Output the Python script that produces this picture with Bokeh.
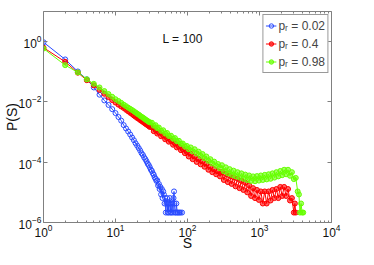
from bokeh.plotting import figure
from bokeh.models import LogAxis, FixedTicker, Legend, LegendItem, Label, CustomJSTickFormatter
from bokeh.embed import file_html
from bokeh.resources import INLINE

# ---------------- data (log10 of P(S)) ----------------
S_blue = [1, 2, 3, 4, 5, 6, 7, 8, 9, 10, 11, 12, 13, 14, 15, 16, 17, 18, 19, 20,
          21, 22, 23, 24, 25, 26, 27, 28, 29, 30, 31, 32, 33, 34, 35, 36, 37, 38, 39, 40,
          41, 42, 43, 44, 45, 46, 47, 48, 49, 50, 51, 52, 53, 54, 55, 56, 57, 58, 59, 60,
          62, 63, 64, 65, 66, 67, 69, 70, 72, 74, 77, 80, 84]
logP_blue = [-0.02, -0.59, -0.99, -1.25, -1.52, -1.76, -1.95, -2.10, -2.24, -2.37,
             -2.50, -2.62, -2.77, -2.88, -2.98, -3.08, -3.18, -3.27, -3.37, -3.45,
             -3.53, -3.61, -3.70, -3.76, -3.84, -3.90, -3.97, -4.05, -4.10, -4.17,
             -4.25, -4.29, -4.37, -4.42, -4.50, -4.55, -4.62, -4.60, -4.77, -4.72,
             -4.89, -4.82, -5.07, -4.89, -5.19, -4.97, -5.07, -5.37, -5.19, -5.67,
             -5.37, -5.19, -5.67, -5.37, -5.67, -5.37, -5.19, -5.67, -5.37, -5.67,
             -5.37, -5.67, -5.19, -4.97, -5.37, -5.67, -5.67, -5.37, -5.67, -5.67,
             -5.67, -5.67, -5.67]

S_red = [1, 2, 3, 4, 5, 6, 7, 8, 9, 10, 11, 12, 13, 14, 15, 16, 17, 18, 19, 20,
         21, 22, 23, 24, 25, 26, 27, 28, 29, 30,
         32, 34, 36, 38, 40, 43, 46, 49, 52, 55, 59, 63, 67, 71, 76, 81, 86, 92, 98,
         104, 111, 118, 126, 134, 143, 152, 162, 172, 183, 195, 208, 221, 235, 250, 266, 283,
         301, 320, 341, 363, 386, 411, 437, 465, 495, 527, 561, 597, 635, 676, 719, 765,
         814, 866, 922, 981, 1044, 1111, 1182, 1258, 1339, 1425, 1516, 1613, 1716, 1826,
         1943, 2067, 2199, 2340, 2490, 2650, 2820, 3000, 3100, 3190]
logP_red = [-0.20, -0.67, -1.03, -1.28, -1.45, -1.60, -1.73, -1.84, -1.94, -2.02,
            -2.09, -2.15, -2.20, -2.26, -2.31, -2.36, -2.40, -2.45, -2.49, -2.53,
            -2.56, -2.60, -2.63, -2.66, -2.69, -2.72, -2.75, -2.77, -2.80, -2.83,
            -2.84, -2.97, -2.93, -3.05, -3.01, -3.14, -3.11, -3.24, -3.20, -3.32,
            -3.29, -3.42, -3.38, -3.51, -3.48, -3.60, -3.57, -3.70, -3.66,
            -3.81, -3.72, -3.90, -3.81, -3.99, -3.89, -4.07, -3.97, -4.15, -4.05,
            -4.25, -4.15, -4.33, -4.23, -4.40, -4.30, -4.47,
            -4.32, -4.59, -4.39, -4.66, -4.45, -4.72, -4.50, -4.80, -4.55, -4.86,
            -4.62, -4.92, -4.68, -5.00, -4.77, -5.12,
            -4.86, -5.19, -4.92, -5.25, -4.97, -5.37, -4.97, -5.37, -4.97, -5.27,
            -4.92, -5.19, -4.89, -5.19,
            -4.82, -5.12, -4.82, -5.12, -4.89, -5.27, -5.19, -5.67, -5.37, -5.67]

S_green = [1, 2, 3, 4, 5, 6, 7, 8, 9, 10, 11, 12, 13, 14, 15, 16, 17, 18, 19, 20,
           21, 22, 23, 24, 25, 26, 27, 28, 29, 30,
           32, 34, 36, 38, 40, 43, 46, 49, 52, 55, 59, 63, 67, 71, 76, 81, 86, 92, 98,
           104, 111, 118, 126, 134, 143, 152, 162, 172, 183, 195, 208, 221, 235, 250, 266, 283,
           301, 320, 341, 363, 386, 411, 437, 465, 495, 527, 561, 597, 635, 676, 719, 765,
           814, 866, 922, 981, 1044, 1111, 1182, 1258, 1339, 1425, 1516, 1613, 1716, 1826,
           1943, 2067, 2199, 2340, 2490, 2650, 2820, 3000, 3190, 3390, 3530, 3650, 3780,
           3900, 4050]
logP_green = [-0.23, -0.78, -1.02, -1.25, -1.40, -1.52, -1.64, -1.74, -1.83, -1.91,
              -1.97, -2.03, -2.09, -2.14, -2.19, -2.23, -2.27, -2.31, -2.35, -2.39,
              -2.42, -2.46, -2.49, -2.52, -2.55, -2.58, -2.61, -2.63, -2.66, -2.68,
              -2.69, -2.79, -2.77, -2.87, -2.85, -2.96, -2.94, -3.05, -3.03, -3.13,
              -3.12, -3.22, -3.20, -3.30, -3.29, -3.39, -3.38, -3.48, -3.46,
              -3.57, -3.51, -3.64, -3.57, -3.71, -3.65, -3.79, -3.73, -3.87, -3.81,
              -3.95, -3.90, -4.04, -3.98, -4.12, -4.06, -4.20,
              -4.10, -4.30, -4.17, -4.37, -4.23, -4.42, -4.28, -4.47, -4.33, -4.51,
              -4.37, -4.55, -4.41, -4.59, -4.44, -4.62,
              -4.47, -4.63, -4.46, -4.61, -4.44, -4.59, -4.42, -4.57, -4.40, -4.55,
              -4.37, -4.51, -4.33, -4.47,
              -4.29, -4.43, -4.25, -4.40, -4.25, -4.45, -4.33, -4.56, -4.52, -4.97,
              -5.07, -5.67, -5.37, -5.67, -5.67]

series_labels = ["p\u1d63 = 0.02", "p\u1d63 = 0.4", "p\u1d63 = 0.98"]
series_colors = ["#2a4bff", "#ff0000", "#66ff00"]
series_fill_alpha = [0.0, 0.6, 0.6]

x_major_ticks = [1, 10, 100, 1000, 10000]
y_major_ticks = [1e-6, 1e-4, 1e-2, 1e0]

P_blue = [10 ** v for v in logP_blue]
P_red = [10 ** v for v in logP_red]
P_green = [10 ** v for v in logP_green]

x_minor_ticks = [m * t for t in x_major_ticks[:-1] for m in range(2, 10)]

FONT = "Liberation Sans"

p = figure(width=358, height=253,
           x_axis_type="log", y_axis_type="log",
           x_range=(1, 1e4), y_range=(1e-6, 10),
           output_backend="svg", toolbar_location=None,
           min_border_left=40, min_border_right=27,
           min_border_top=11, min_border_bottom=29)
p.xgrid.visible = False
p.ygrid.visible = False
p.outline_line_color = None
p.background_fill_color = "white"
p.border_fill_color = "white"

xt = FixedTicker(ticks=x_major_ticks, minor_ticks=x_minor_ticks)
yt = FixedTicker(ticks=y_major_ticks, minor_ticks=[])


def style(ax):
    ax.axis_line_color = "#808080"
    ax.major_tick_line_color = "#808080"
    ax.minor_tick_line_color = "#808080"
    ax.major_tick_in = 4
    ax.major_tick_out = 0
    ax.minor_tick_in = 2
    ax.minor_tick_out = 0
    ax.major_label_text_font = FONT
    ax.major_label_text_font_size = "12px"
    ax.major_label_text_color = "#111111"
    ax.axis_label_text_font = FONT
    ax.axis_label_text_font_size = "14px"
    ax.axis_label_text_font_style = "normal"
    ax.axis_label_text_color = "#111111"


xa = p.xaxis[0]
xa.ticker = xt
style(xa)
xa.axis_label = "S"
xa.major_label_standoff = 1
xa.axis_label_standoff = -5

ya = p.yaxis[0]
ya.ticker = yt
style(ya)
ya.axis_label = "P(S)"
ya.major_label_standoff = 2
ya.axis_label_standoff = -4

empty = CustomJSTickFormatter(code="return '';")
top = LogAxis(ticker=xt, formatter=empty, major_label_standoff=0)
style(top)
right = LogAxis(ticker=yt, formatter=empty, major_label_standoff=0)
style(right)
p.add_layout(top, "above")
p.add_layout(right, "right")

data = [(S_blue, P_blue), (S_red, P_red), (S_green, P_green)]
items = []
for (sx, py), col, fa, lab in zip(data, series_colors, series_fill_alpha, series_labels):
    ln = p.line(sx, py, line_color=col, line_width=1)
    sc = p.scatter(sx, py, marker="circle", size=5, line_color=col,
                   fill_color=col, fill_alpha=fa, line_width=1)
    items.append(LegendItem(label=lab, renderers=[ln, sc]))

legend = Legend(items=items, location="top_right",
                label_text_font=FONT, label_text_font_size="12px",
                label_standoff=2, glyph_width=11, glyph_height=17,
                label_height=17, label_width=10, padding=2, spacing=1, margin=3,
                border_line_color="#333333", border_line_width=1,
                background_fill_color="white", background_fill_alpha=1)
p.add_layout(legend)

p.add_layout(Label(x=45, y=1.26, text="L = 100", text_font=FONT,
                   text_font_size="12px", text_baseline="middle", text_color="#111111"))

open("out.html", "w").write(file_html(p, INLINE))
